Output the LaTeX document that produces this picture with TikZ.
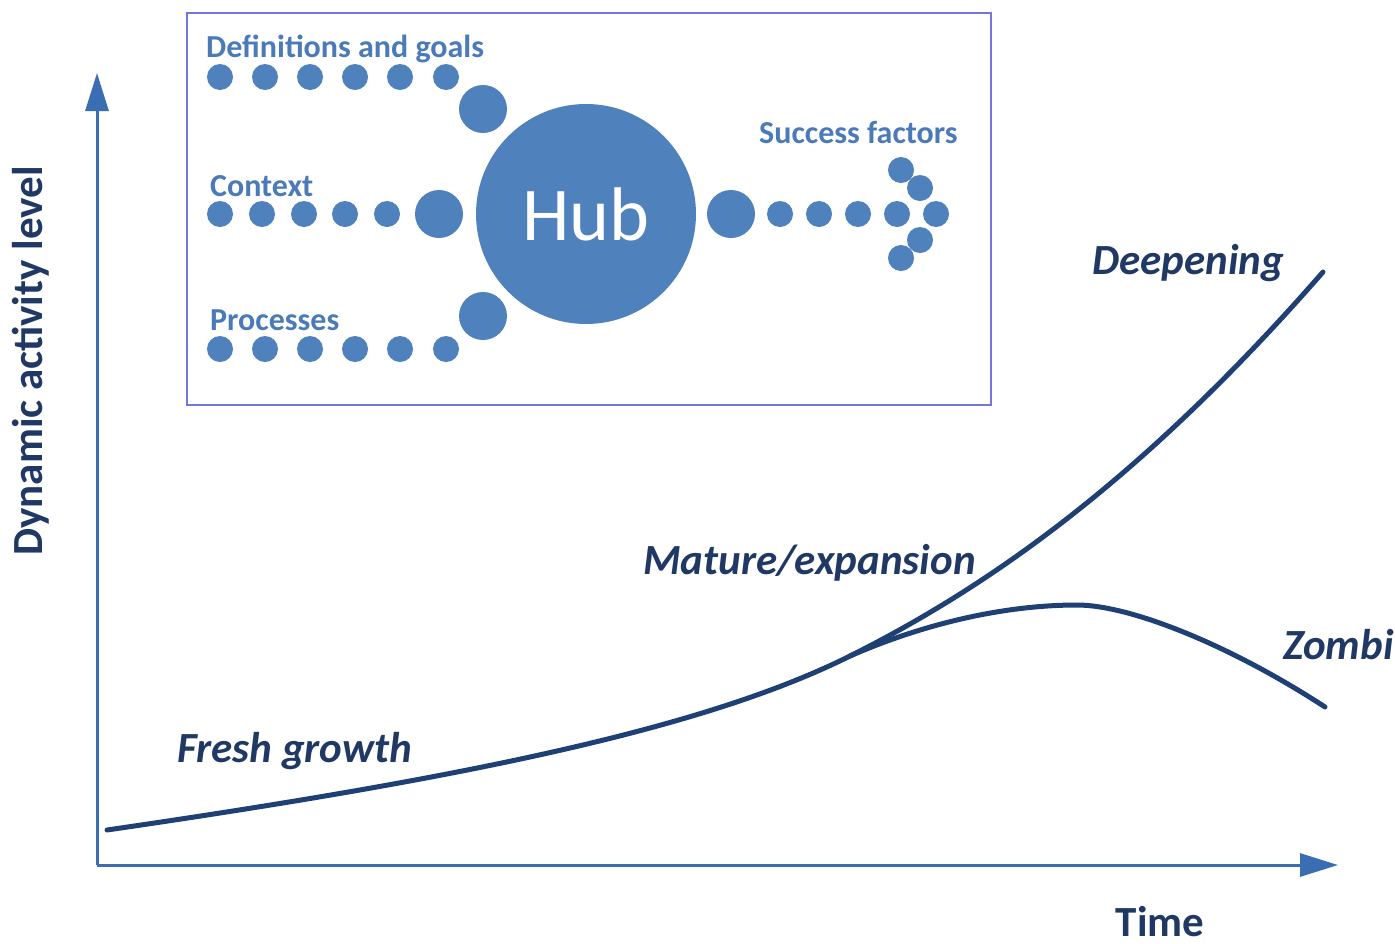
\documentclass[tikz,border=0pt]{standalone}
\usepackage{fontspec}
\setmainfont{Carlito}
\usetikzlibrary{arrows.meta}
\definecolor{hubblue}{HTML}{4F81BD}
\definecolor{inblue}{HTML}{4A7AB7}
\definecolor{axisblue}{HTML}{3A6DB2}
\definecolor{curvenavy}{HTML}{1F4075}
\definecolor{labelnavy}{HTML}{1F3864}
\definecolor{boxviolet}{HTML}{7575E0}
\tikzset{
  dot/.style ={circle, fill=hubblue, inner sep=0pt, minimum size=26pt},
  bigdot/.style ={circle, fill=hubblue, inner sep=0pt, minimum size=48pt},
  inlabel/.style ={text=inblue, font=\fontsize{32}{36}\selectfont\bfseries, inner sep=0pt, anchor=base west},
  phase/.style ={text=labelnavy, font=\fontsize{43}{47}\selectfont\bfseries\itshape, inner sep=0pt, anchor=base west},
  axislabel/.style ={text=labelnavy, font=\fontsize{43}{47}\selectfont\bfseries, inner sep=0pt, anchor=base},
  axis/.style ={draw=axisblue, line width=3pt, -{Triangle[length=38pt,width=23pt]}},
  curve/.style ={draw=curvenavy, line width=5pt, line cap=round}
}
\begin{document}
\begin{tikzpicture}[x=1pt, y=-1pt]
\useasboundingbox (0,0) rectangle (1395,943);

% inset
\node[draw=boxviolet, line width=1.5pt, minimum width=804pt, minimum height=392pt, anchor=north west] (inset) at (186,12) {};
\node[inlabel] (lgoals) at (206,57) {Definitions and goals};
\node[inlabel] (lcontext) at (210,196) {Context};
\node[inlabel] (lproc) at (210,330) {Processes};
\node[inlabel] (lsuccess) at (759,143) {Success factors};

\node[circle, fill=hubblue, minimum size=220pt, inner sep=0pt, text=white, font=\fontsize{76}{80}\selectfont] (hub) at (586,214) {Hub};

\node[dot] (g1) at (220,77) {};
\node[dot] (g2) at (265,77) {};
\node[dot] (g3) at (310,77) {};
\node[dot] (g4) at (355,77) {};
\node[dot] (g5) at (400,77) {};
\node[dot] (g6) at (446,77) {};
\node[bigdot] (g7) at (483,109) {};

\node[dot] (c1) at (220,214) {};
\node[dot] (c2) at (262,214) {};
\node[dot] (c3) at (304,214) {};
\node[dot] (c4) at (345,214) {};
\node[dot] (c5) at (387,214) {};
\node[bigdot] (c6) at (439,214) {};

\node[dot] (p1) at (220,349) {};
\node[dot] (p2) at (265,349) {};
\node[dot] (p3) at (310,349) {};
\node[dot] (p4) at (355,349) {};
\node[dot] (p5) at (400,349) {};
\node[dot] (p6) at (446,349) {};
\node[bigdot] (p7) at (483,316) {};

\node[bigdot] (s1) at (731,214) {};
\node[dot] (s2) at (780,214) {};
\node[dot] (s3) at (819,214) {};
\node[dot] (s4) at (858,214) {};
\node[dot] (s5) at (897,214) {};
\node[dot] (s6) at (936,214) {};
\node[dot] (s7) at (920,188) {};
\node[dot] (s8) at (901,170) {};
\node[dot] (s9) at (920,240) {};
\node[dot] (s10) at (901,258) {};

% axes
\coordinate (origin) at (97,865);
\coordinate (ytop) at (97,73);
\coordinate (xend) at (1338,865);
\draw[axis] (origin) -- (ytop);
\draw[axis] (origin) -- (xend);
\node[axislabel, rotate=90] (ylabel) at (42,361) {Dynamic activity level};
\node[axislabel] (xlabel) at (1160,936) {Time};

% curves
\coordinate (start) at (107,830);
\coordinate (split) at (850,656);
\coordinate (deep) at (1323,272);
\coordinate (peak) at (1077,605);
\coordinate (zomb) at (1325,707);
\draw[curve] (start) .. controls (450,780) and (700,731) .. (split)
  .. controls (1000,581) and (1150,470) .. (deep);
\draw[curve] (split) .. controls (930,621) and (1010,605) .. (peak)
  .. controls (1130,605) and (1230,645) .. (zomb);

\node[phase] (fresh) at (177,762) {Fresh growth};
\node[phase] (mature) at (643,574) {Mature/expansion};
\node[phase] (deepening) at (1092,274) {Deepening};
\node[phase] (zombi) at (1283,659) {Zombi};
\end{tikzpicture}
\end{document}
